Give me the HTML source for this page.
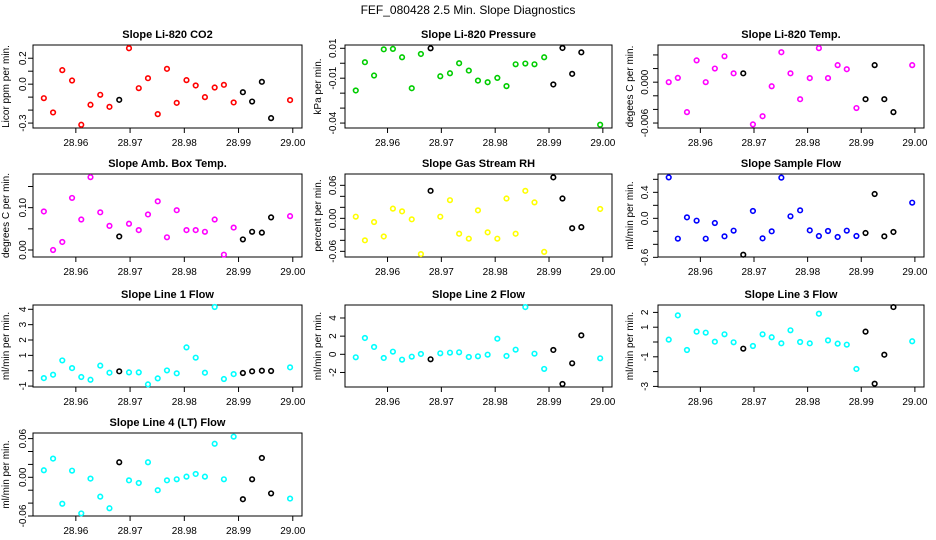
<!DOCTYPE html>
<html><head><meta charset="utf-8">
<style>
html,body{margin:0;padding:0;background:#fff;}
svg{display:block;font-family:"Liberation Sans",Arial,sans-serif;}
</style></head>
<body>
<svg id="chart" width="936" height="540" viewBox="0 0 936 540">
<text x="468" y="14" text-anchor="middle" font-size="12">FEF_080428  2.5 Min. Slope Diagnostics</text>
</svg>
<script>
// ---- shared data ----
const xDays = [28.9541,28.9558,28.9575,28.9593,28.9610,28.9627,28.9645,28.9662,28.9680,28.9698,28.9716,28.9733,28.9751,28.9768,28.9786,28.9804,28.9821,28.9838,28.9856,28.9873,28.9891,28.9908,28.9925,28.9943,28.9960,28.9995];
const blackIdx = [8,21,22,23,24];
const xTicks = [28.96,28.97,28.98,28.99,29.00];
const xTickLabels = ["28.96","28.97","28.98","28.99","29.00"];

const co2 = [-0.108,-0.218,0.108,0.028,-0.313,-0.159,-0.082,-0.175,-0.121,0.277,-0.031,0.046,-0.231,0.118,-0.144,0.031,-0.010,-0.100,-0.026,-0.005,-0.141,-0.062,-0.134,0.018,-0.262,-0.123];
const pressure = [-0.0182,0.0007,-0.0082,0.0093,0.0096,0.0040,-0.0167,0.0062,0.0100,-0.0087,-0.0067,0.0000,-0.0049,-0.0116,-0.0127,-0.0098,-0.0153,-0.0007,-0.0002,-0.0007,0.0040,-0.0142,0.0102,-0.0071,0.0073,-0.0411];
const liTemp = [0,0.00063,-0.0044,0.0032,0,0.0020,0.0038,0.0013,0.0013,-0.0062,-0.0050,-0.0006,0.0044,0.0013,-0.0025,0.0006,0.0050,0.0006,0.0025,0.0019,-0.0038,-0.0025,0.0025,-0.0025,-0.0044,0.0025];
const ambTemp = [0.091,0,0.019,0.123,0.072,0.172,0.089,0.057,0.032,0.062,0.047,0.084,0.115,0.030,0.094,0.047,0.047,0.043,0.072,-0.011,0.053,0.025,0.043,0.041,0.077,0.080];
const rh = [0.003,-0.040,-0.0067,-0.033,0.0176,0.0127,-0.0018,-0.065,0.050,0.003,0.033,-0.028,-0.037,0.0145,-0.0255,-0.037,0.036,-0.028,0.050,0.029,-0.061,0.0745,0.036,-0.018,-0.016,0.017];
const sampleFlow = [0.63,-0.313,0.015,-0.036,-0.313,-0.072,-0.277,-0.19,-0.56,0.113,-0.308,-0.2,0.626,0.031,0.123,-0.185,-0.272,-0.195,-0.287,-0.19,-0.272,-0.226,0.374,-0.277,-0.21,0.241];
const line1 = [-0.48,-0.26,0.67,0.17,-0.41,-0.59,0.33,-0.13,-0.04,-0.11,-0.11,-0.89,-0.5,0.02,-0.17,1.52,0.85,-0.13,4.15,-0.54,-0.22,-0.15,-0.04,0,-0.02,0.22];
const line2 = [-0.33,1.8,0.81,-0.4,0.29,-0.59,-0.26,0.04,-0.55,0.11,0.18,0.22,-0.29,-0.22,-0.04,1.72,-0.18,0.51,5.2,0.07,-1.61,0.48,-3.27,-0.99,2.09,-0.44];
const line3 = [0.16,1.8,-0.54,0.7,0.63,0.02,0.52,-0.02,-0.45,-0.27,0.52,0.32,-0.09,0.79,0,-0.09,1.91,0.11,-0.11,-0.18,-1.82,0.7,-2.82,-0.86,2.36,0.05];
const line4 = [0.0109,0.029,-0.041,0.0103,-0.056,-0.002,-0.030,-0.048,0.0233,-0.0047,-0.0088,0.0233,-0.020,-0.0047,-0.0031,0.001,0.0052,0.001,0.052,-0.0031,0.063,-0.034,-0.0031,0.030,-0.025,-0.033];

const co2Ticks=[0.2,0.1,0,-0.1,-0.2,-0.3], co2Labels=["0.2","","0.0","","","-0.3"];
const presTicks=[0.01,0,-0.01,-0.02,-0.03,-0.04], presLabels=["0.01","","-0.01","","","-0.04"];
const tempTicks=[0.004,0.002,0,-0.002,-0.004,-0.006], tempLabels=["","","0.000","","","-0.006"];
const ambTicks=[0.15,0.10,0.05,0], ambLabels=["","0.10","","0.00"];
const rhTicks=[0.06,0.04,0.02,0,-0.02,-0.04,-0.06], rhLabels=["0.06","","","0.00","","","-0.06"];
const sfTicks=[0.6,0.4,0.2,0,-0.2,-0.4,-0.6], sfLabels=["","0.4","","0.0","","","-0.6"];
const l1Ticks=[4,3,2,1,0,-1], l1Labels=["4","3","2","1","","-1"];
const l2Ticks=[4,2,0,-2], l2Labels=["4","2","0","-2"];
const l3Ticks=[2,1,0,-1,-2,-3], l3Labels=["2","1","","-1","","-3"];
const l4Ticks=[0.06,0.04,0.02,0,-0.02,-0.04,-0.06], l4Labels=["0.06","","","0.00","","","-0.06"];

const NS="http://www.w3.org/2000/svg";
const svg=document.getElementById('chart');
const cols=[{l:33,r:302,yl:26,yt:9},{l:345,r:612,yl:336,yt:321},{l:658,r:924,yl:648,yt:633}];
const rows=[{t:45,b:128},{t:174,b:257},{t:305,b:387},{t:433,b:516}];
const xDom=[28.9521,29.0017];

const panels=[
 {name:"co2",title:"Slope Li-820 CO2",ylab:"Licor ppm per min.",c:0,r:0,col:"#ff0000",data:co2,dom:[-0.338,0.302],ticks:co2Ticks,labels:co2Labels},
 {name:"pressure",title:"Slope Li-820 Pressure",ylab:"kPa per min.",c:1,r:0,col:"#00cd00",data:pressure,dom:[-0.0433,0.0122],ticks:presTicks,labels:presLabels},
 {name:"li-temp",title:"Slope Li-820 Temp.",ylab:"degees C per min.",c:2,r:0,col:"#ff00ff",data:liTemp,dom:[-0.00673,0.00546],ticks:tempTicks,labels:tempLabels},
 {name:"amb-temp",title:"Slope Amb. Box Temp.",ylab:"degrees C per min.",c:0,r:1,col:"#ff00ff",data:ambTemp,dom:[-0.0165,0.1795],ticks:ambTicks,labels:ambLabels},
 {name:"rh",title:"Slope Gas Stream RH",ylab:"percent per min.",c:1,r:1,col:"#ffff00",data:rh,dom:[-0.0703,0.0806],ticks:rhTicks,labels:rhLabels},
 {name:"sample-flow",title:"Slope Sample Flow",ylab:"ml/min per min.",c:2,r:1,col:"#0000ff",data:sampleFlow,dom:[-0.595,0.682],ticks:sfTicks,labels:sfLabels},
 {name:"line1-flow",title:"Slope Line 1 Flow",ylab:"ml/min per min.",c:0,r:2,col:"#00ffff",data:line1,dom:[-1.06,4.28],ticks:l1Ticks,labels:l1Labels},
 {name:"line2-flow",title:"Slope Line 2 Flow",ylab:"ml/min per min.",c:1,r:2,col:"#00ffff",data:line2,dom:[-3.6,5.43],ticks:l2Ticks,labels:l2Labels},
 {name:"line3-flow",title:"Slope Line 3 Flow",ylab:"ml/min per min.",c:2,r:2,col:"#00ffff",data:line3,dom:[-3.04,2.5],ticks:l3Ticks,labels:l3Labels},
 {name:"line4-flow",title:"Slope Line 4 (LT) Flow",ylab:"ml/min per min.",c:0,r:3,col:"#00ffff",data:line4,dom:[-0.06,0.0687],ticks:l4Ticks,labels:l4Labels}
];

function mk(tag,attrs,parent){const e=document.createElementNS(NS,tag);for(const k in attrs)e.setAttribute(k,attrs[k]);(parent||svg).appendChild(e);return e;}

panels.forEach(p=>{
  const C=cols[p.c],R=rows[p.r];
  const g=mk('g',{});
  
  
  const xS=v=>C.l+(v-xDom[0])/(xDom[1]-xDom[0])*(C.r-C.l);
  const yS=v=>R.b-(v-p.dom[0])/(p.dom[1]-p.dom[0])*(R.b-R.t);
  const box=mk('rect',{x:C.l,y:R.t,width:C.r-C.l,height:R.b-R.t,fill:'none',stroke:'#000','stroke-width':1},g);
  
  
  const t=mk('text',{x:(C.l+C.r)/2,y:R.t-7,'text-anchor':'middle','font-size':11,'font-weight':'bold'},g);
  t.textContent=p.title;
  
  
  const xa=mk('g',{},g);
  
  
  mk('line',{x1:xS(xTicks[0]),x2:xS(xTicks[xTicks.length-1]),y1:R.b,y2:R.b,stroke:'#000'},xa);
  xTicks.forEach((v,i)=>{
    mk('line',{x1:xS(v),x2:xS(v),y1:R.b,y2:R.b+5,stroke:'#000'},xa);
    const tl=mk('text',{x:xS(v),y:R.b+18,'text-anchor':'middle','font-size':10},xa);
    tl.textContent=xTickLabels[i];
    
    
  });
  const ya=mk('g',{},g);
  
  
  mk('line',{x1:C.l,x2:C.l,y1:yS(p.ticks[0]),y2:yS(p.ticks[p.ticks.length-1]),stroke:'#000'},ya);
  p.ticks.forEach((v,i)=>{
    const y=yS(v);
    mk('line',{x1:C.l-5,x2:C.l,y1:y,y2:y,stroke:'#000'},ya);
    if(p.labels[i]){
      const tl=mk('text',{x:C.yl,y:y,'text-anchor':'middle','font-size':10,transform:`rotate(-90 ${C.yl} ${y})`},ya);
      tl.textContent=p.labels[i];
      
      
    }
  });
  const yt=mk('text',{x:C.yt,y:(R.t+R.b)/2,'text-anchor':'middle','font-size':10,transform:`rotate(-90 ${C.yt} ${(R.t+R.b)/2})`},g);
  yt.textContent=p.ylab;
  
  
  p.data.forEach((v,i)=>{
    const col=blackIdx.includes(i)?'#000':p.col;
    const c=mk('circle',{cx:xS(xDays[i]),cy:yS(v),r:2.3,fill:'none',stroke:col,'stroke-width':1.6},g);
    
    
  });
});
</script>
</body></html>
